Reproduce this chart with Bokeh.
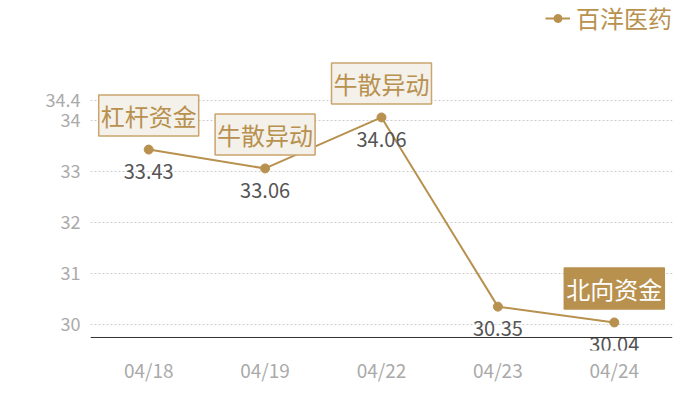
from bokeh.plotting import figure
from bokeh.models import (ColumnDataSource, FixedTicker, Range1d, FactorRange, Legend,
                          LegendItem, Span)
from bokeh.core.properties import value
from bokeh.embed import file_html
from bokeh.resources import INLINE

dates = ["04/18", "04/19", "04/22", "04/23", "04/24"]
prices = [33.43, 33.06, 34.06, 30.35, 30.04]
y_ticks = [30, 31, 32, 33, 34, 34.4]
y_axis_base = 29.745
series_name = "百洋医药"

note_dates = ["04/18", "04/19", "04/22", "04/24"]
note_values = [33.43, 33.06, 34.06, 30.04]
note_texts = ["杠杆资金", "牛散异动", "牛散异动", "北向资金"]
note_filled = [False, False, False, True]

TAN = "#b8914f"
FONT = "Noto Sans CJK SC"

p = figure(frame_width=582, frame_height=350, output_backend="svg", toolbar_location=None,
           x_range=FactorRange(*dates, range_padding=0),
           y_range=Range1d(29.49, 36.353),
           min_border_left=90, min_border_right=12, min_border_top=0, min_border_bottom=0)
p.outline_line_color = None
p.background_fill_color = None
p.border_fill_color = "white"

p.yaxis.ticker = FixedTicker(ticks=y_ticks)
p.yaxis.axis_line_color = None
p.yaxis.major_tick_line_color = None
p.yaxis.minor_tick_line_color = None
p.yaxis.major_tick_out = 0
p.yaxis.major_tick_in = 0
p.yaxis.major_label_standoff = 10
p.yaxis.major_label_text_color = "#aaaaaa"
p.yaxis.major_label_text_font = FONT
p.yaxis.major_label_text_font_size = "18px"

p.xaxis.axis_line_color = None
p.xaxis.major_tick_line_color = None
p.xaxis.minor_tick_line_color = None
p.xaxis.major_tick_out = 0
p.xaxis.major_tick_in = 0
p.xaxis.major_label_standoff = 5
p.xaxis.major_label_text_color = "#aaaaaa"
p.xaxis.major_label_text_font = FONT
p.xaxis.major_label_text_font_size = "19px"

p.xgrid.grid_line_color = None
p.ygrid.ticker = FixedTicker(ticks=y_ticks)
p.ygrid.grid_line_color = "#cccccc"
p.ygrid.grid_line_dash = "2 2"

p.add_layout(Span(location=y_axis_base, dimension="width", line_color="#333333", line_width=1))

src = ColumnDataSource(dict(x=dates, y=prices, lbl=[f"{v:.2f}" for v in prices]))
ln = p.line("x", "y", source=src, line_color=TAN, line_width=2)
sc = p.scatter("x", "y", source=src, size=9, fill_color=TAN, line_color=TAN)

p.text("x", "y", text="lbl", source=src, y_offset=22, text_align="center",
       text_baseline="middle", text_color="#555555", text_font=value(FONT),
       text_font_size="20px")

for filled in (False, True):
    idx = [i for i, f in enumerate(note_filled) if f == filled]
    nsrc = ColumnDataSource(dict(x=[note_dates[i] for i in idx],
                                 y=[note_values[i] for i in idx],
                                 t=[note_texts[i] for i in idx]))
    p.text("x", "y", text="t", source=nsrc, y_offset=-34, text_align="center",
           text_baseline="middle",
           text_color="white" if filled else TAN,
           text_font=value(FONT), text_font_size="24px",
           background_fill_color=TAN if filled else "#f4f0ea",
           border_line_color=TAN if filled else "#c9a46c",
           border_line_width=1.5,
           padding=dict(left=2, right=2, top=3, bottom=3))

legend = Legend(items=[LegendItem(label=series_name, renderers=[ln, sc])],
                location="top_right", border_line_color=None,
                background_fill_alpha=0, label_text_font=FONT,
                label_text_font_size="24px", label_text_color=TAN,
                glyph_width=25, margin=0, padding=0, label_standoff=6)
p.add_layout(legend)

open("out.html", "w").write(file_html(p, INLINE))
